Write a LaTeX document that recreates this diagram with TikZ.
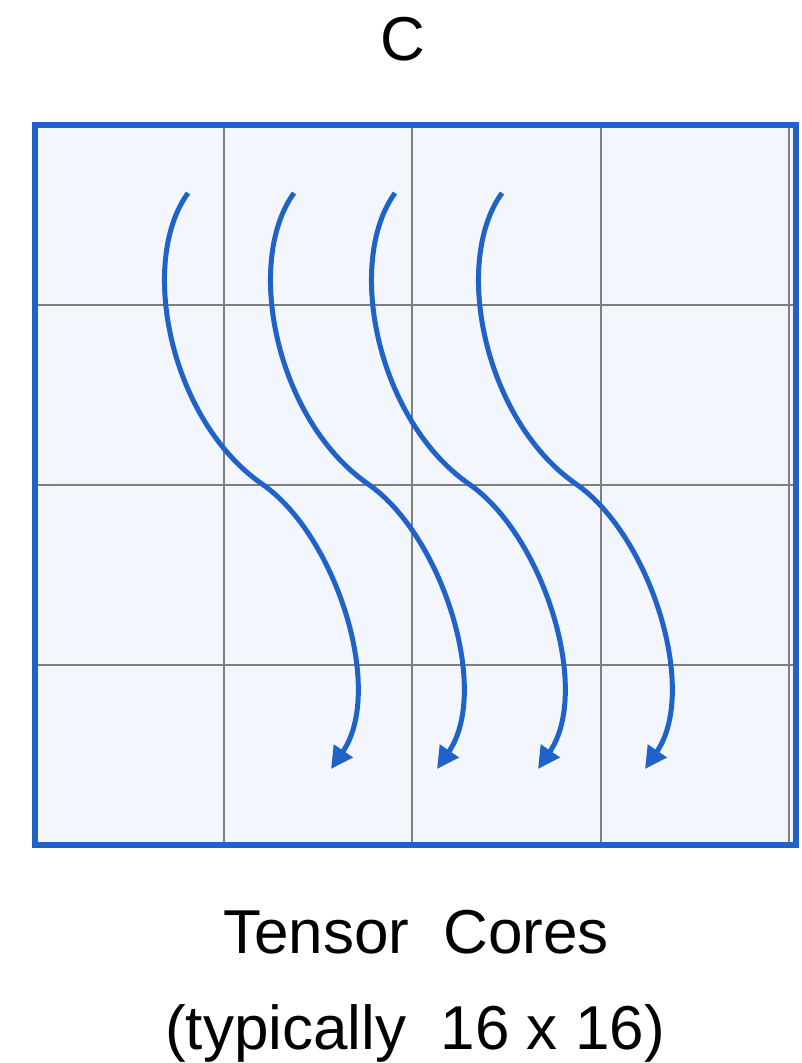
\documentclass[tikz,border=0pt]{standalone}
\usepackage{fontspec}
\setmainfont{Liberation Sans}
\usetikzlibrary{arrows.meta}
\definecolor{cblue}{HTML}{1F63C8}
\definecolor{cfill}{HTML}{F3F6FC}
\definecolor{cgrid}{HTML}{7F7F7F}
\tikzset{
  gridline/.style={draw=cgrid, line width=2pt},
  frame/.style={draw=cblue, line width=6pt},
  flow/.style={draw=cblue, line width=5pt, -{Triangle[length=22pt,width=22pt]}},
  label/.style={font=\fontsize{62}{70}\selectfont, inner sep=0pt, anchor=base}
}
\begin{document}
\begin{tikzpicture}[x=1pt,y=-1pt]
\useasboundingbox (0,0) rectangle (801,1063);
\fill[cfill] (35,125) rectangle (796,845);
\foreach \x in {223.5,412,600.5,789} \draw[gridline] (\x,125) -- (\x,845);
\foreach \y in {305,485,665} \draw[gridline] (35,\y) -- (796,\y);
\draw[frame] (35,125) rectangle (796,845);
\foreach \dx in {0,106,207,314}{
  \begin{scope}[shift={(\dx,0)}]
    \coordinate (s) at (188,193);
    \coordinate (m) at (262,484);
    \coordinate (e) at (331,769);
    \draw[flow] (s) .. controls (138,262) and (170,420) .. (m)
                    .. controls (336,535) and (385,690) .. (e);
  \end{scope}
}
\node[label] (c) at (403,60) {C};
\node[label] (t1) at (416,953) {Tensor\ \ Cores};
\node[label] (t2) at (415,1049) {(typically\ \ 16\ x\ 16)};
\end{tikzpicture}
\end{document}
